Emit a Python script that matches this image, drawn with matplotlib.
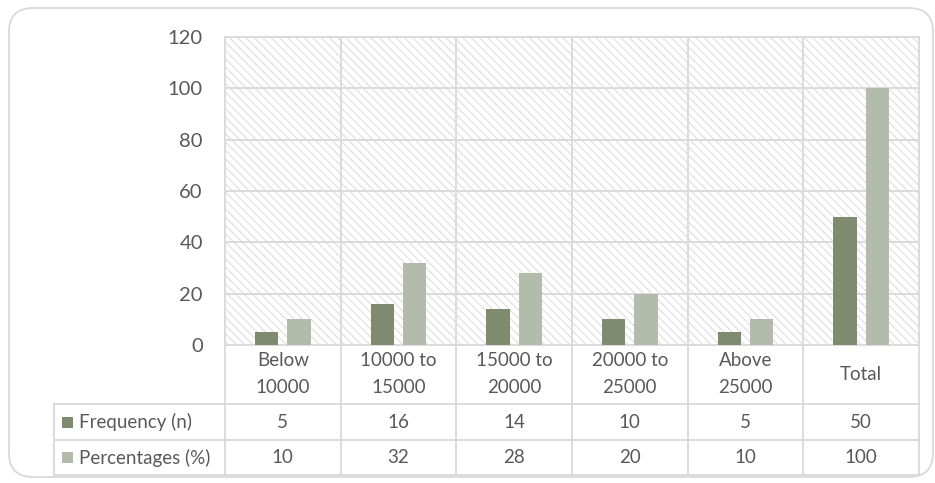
import matplotlib.pyplot as plt
import numpy as np
from matplotlib.patches import Rectangle, FancyBboxPatch
from matplotlib.lines import Line2D

plt.rcParams['font.family'] = ['Lato', 'DejaVu Sans']
plt.rcParams['hatch.linewidth'] = 0.7

# income groups and counts
categories = ['Below\n10000', '10000 to\n15000', '15000 to\n20000',
              '20000 to\n25000', 'Above\n25000', 'Total']
frequency = [5, 16, 14, 10, 5, 50]
percentages = [10, 32, 28, 20, 10, 100]
series_names = ['Frequency (n)', 'Percentages (%)']
series_colors = ['#7f8b6f', '#b3bcab']

W, H = 935, 483
fig = plt.figure(figsize=(W / 100, H / 100), dpi=100)

# background layer in pixel units: rounded frame + legend keys
bg = fig.add_axes([0, 0, 1, 1], zorder=-1)
bg.set_xlim(0, W)
bg.set_ylim(H, 0)
bg.axis('off')
bg.add_patch(FancyBboxPatch((9, 8), 924, 469, boxstyle='round,pad=0,rounding_size=24',
                            facecolor='white', edgecolor='#d9d9d9', linewidth=1.3))

ax_left, ax_right, ax_top, ax_bot = 225, 919, 37, 345
ax = fig.add_axes([ax_left / W, 1 - ax_bot / H, (ax_right - ax_left) / W,
                   (ax_bot - ax_top) / H])
ax.patch.set_alpha(0)
ax.add_patch(Rectangle((0, 0), 1, 1, transform=ax.transAxes, facecolor='white',
                       edgecolor='#dadada', linewidth=0, hatch='\\\\\\\\', zorder=0))

x = np.arange(len(categories))
bw = 0.2
ax.bar(x - 0.14, frequency, bw, color=series_colors[0], zorder=3)
ax.bar(x + 0.14, percentages, bw, color=series_colors[1], zorder=3)

ax.set_xlim(-0.5, len(categories) - 0.5)
ax.set_ylim(0, 120)
ax.set_yticks(np.arange(0, 121, 20))
ax.set_xticks([])
ax.tick_params(axis='y', length=0, pad=16, labelsize=14.5, labelcolor='#595959')
for yv in np.arange(20, 121, 20):
    ax.axhline(yv, color='#d9d9d9', lw=1.3, zorder=1)
for xv in np.arange(0.5, len(categories) - 0.5, 1):
    ax.axvline(xv, color='#d9d9d9', lw=1.3, zorder=1)
for s in ax.spines.values():
    s.set_color('#d9d9d9')
    s.set_linewidth(1.3)

# data table under the plot
ph = ax_bot - ax_top
def ay(py):
    return (ax_bot - py) / ph

trans = ax.get_xaxis_transform()
row_tops = [345, 404, 440, 475]
line_kw = dict(color='#d9d9d9', lw=1.3, clip_on=False)
edges = np.arange(-0.5, len(categories), 1)
for xe in edges:
    ax.add_line(Line2D([xe, xe], [ay(345), ay(475)], transform=trans, **line_kw))
left_ax = (54 - ax_left) / (ax_right - ax_left)
for py in row_tops[1:]:
    ax.add_line(Line2D([left_ax, 1], [ay(py), ay(py)], transform=ax.transAxes, **line_kw))
ax.add_line(Line2D([left_ax, left_ax], [ay(404), ay(475)], transform=ax.transAxes, **line_kw))

txt = dict(color='#595959', fontsize=13.5, ha='center', va='center')
for i, c in enumerate(categories):
    ax.text(i, ay(374), c, transform=trans, linespacing=1.75, **txt)
    ax.text(i, ay(422), str(frequency[i]), transform=trans, **txt)
    ax.text(i, ay(457.5), str(percentages[i]), transform=trans, **txt)

for k, (name, col) in enumerate(zip(series_names, series_colors)):
    yc = [422, 457.5][k]
    bg.add_patch(Rectangle((62, yc - 5.5), 11, 11, facecolor=col, edgecolor='none'))
    bg.text(79, yc, name, color='#595959', fontsize=13.5, ha='left', va='center')

fig.savefig('out.png', dpi=100)
